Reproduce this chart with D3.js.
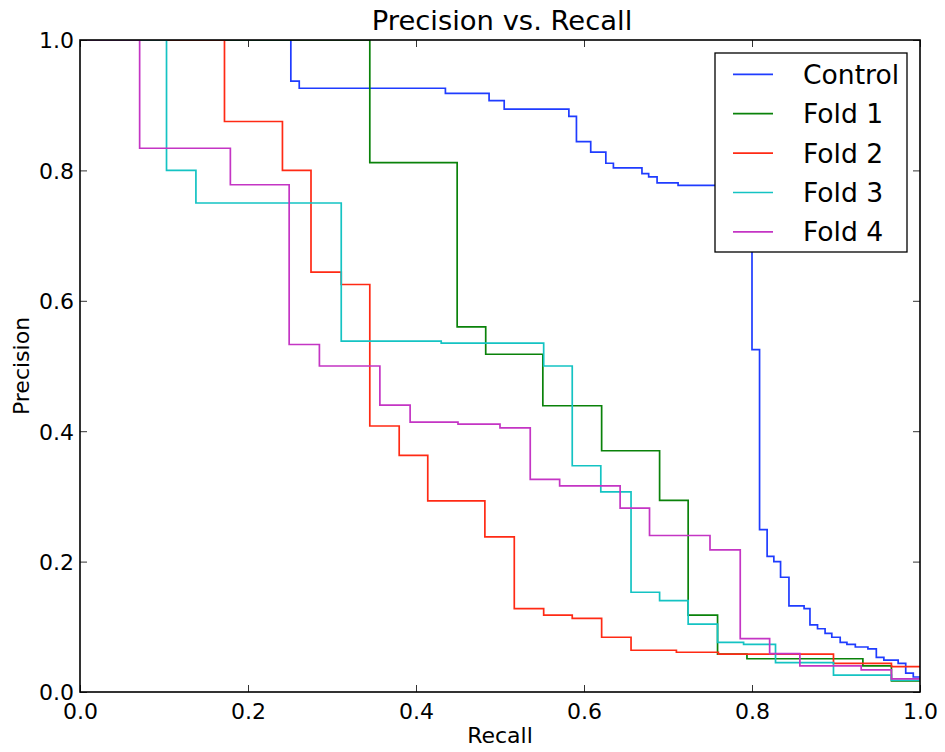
<!DOCTYPE html>
<html><head><meta charset="utf-8">
<script src="https://cdn.jsdelivr.net/npm/d3@7"></script>
<style>body{margin:0;background:#fff}svg{display:block}text{font-family:"DejaVu Sans",sans-serif;fill:#000}</style>
</head><body><svg id="c" width="945" height="752"></svg>
<script>
const seriesNames = ["Control","Fold 1","Fold 2","Fold 3","Fold 4"];
const seriesColors = ["#1f3cff","#0a820a","#ff2a14","#14c3c3","#c435c4"];
const xTicks = [0.0,0.2,0.4,0.6,0.8,1.0];
const yTicks = [0.0,0.2,0.4,0.6,0.8,1.0];

const controlRecall    = [0,0.251,0.261,0.435,0.487,0.505,0.582,0.591,0.608,0.626,0.635,0.669,0.677,0.687,0.712,0.800,0.809,0.818,0.826,0.834,0.844,0.862,0.869,0.878,0.887,0.895,0.905,0.913,0.923,0.938,0.948,0.957,0.974,0.983,0.992,1.0];
const controlPrecision = [1.0,0.937,0.926,0.918,0.907,0.894,0.883,0.844,0.828,0.811,0.804,0.795,0.790,0.781,0.777,0.525,0.249,0.208,0.200,0.176,0.132,0.128,0.103,0.097,0.090,0.084,0.076,0.073,0.069,0.066,0.053,0.049,0.044,0.029,0.023,0.022];

const fold1Recall    = [0,0.345,0.449,0.483,0.551,0.621,0.690,0.724,0.759,0.794,0.932,0.966,1.0];
const fold1Precision = [1.0,0.812,0.560,0.518,0.439,0.370,0.294,0.118,0.058,0.051,0.040,0.017,0.017];

const fold2Recall    = [0,0.172,0.241,0.275,0.311,0.345,0.380,0.414,0.482,0.517,0.552,0.586,0.621,0.656,0.710,0.760,0.897,0.966,1.0];
const fold2Precision = [1.0,0.875,0.800,0.644,0.625,0.408,0.363,0.293,0.238,0.128,0.118,0.113,0.084,0.064,0.061,0.058,0.044,0.039,0.039];

const fold3Recall    = [0,0.103,0.138,0.311,0.430,0.552,0.586,0.620,0.656,0.690,0.724,0.759,0.790,0.828,0.897,0.966,1.0];
const fold3Precision = [1.0,0.800,0.750,0.538,0.535,0.500,0.347,0.307,0.153,0.140,0.104,0.076,0.073,0.045,0.026,0.018,0.018];

const fold4Recall    = [0,0.071,0.179,0.249,0.285,0.357,0.393,0.450,0.500,0.536,0.571,0.643,0.678,0.750,0.786,0.821,0.857,0.930,0.966,1.0];
const fold4Precision = [1.0,0.834,0.778,0.533,0.500,0.440,0.414,0.411,0.405,0.326,0.316,0.282,0.240,0.218,0.082,0.059,0.040,0.034,0.020,0.020];

const recalls = [controlRecall,fold1Recall,fold2Recall,fold3Recall,fold4Recall];
const precisions = [controlPrecision,fold1Precision,fold2Precision,fold3Precision,fold4Precision];

const svg = d3.select("#c");
const L=80,R=920,T=40,B=692;
const x = d3.scaleLinear().domain([0,1]).range([L,R]);
const y = d3.scaleLinear().domain([0,1]).range([B,T]);

svg.append("defs").append("clipPath").attr("id","clip").append("rect")
  .attr("x",L).attr("y",T).attr("width",R-L).attr("height",B-T);

const line = d3.line().x(d=>x(d[0])).y(d=>y(d[1])).curve(d3.curveStepAfter);
const g = svg.append("g").attr("clip-path","url(#clip)");
recalls.forEach((rc,i)=>{
  const pts = rc.map((r,j)=>[r,precisions[i][j]]);
  g.append("path").attr("d",line(pts)).attr("fill","none")
   .attr("stroke",seriesColors[i]).attr("stroke-width",1.7);
});

// ticks inside on all four sides
const tickLen = 7;
const axB = svg.append("g").attr("transform",`translate(0,${B})`).call(d3.axisBottom(x).tickValues(xTicks).tickSize(-tickLen).tickPadding(11).tickFormat(d3.format(".1f")));
const axT = svg.append("g").attr("transform",`translate(0,${T})`).call(d3.axisTop(x).tickValues(xTicks).tickSize(-tickLen).tickFormat(""));
const axL = svg.append("g").attr("transform",`translate(${L},0)`).call(d3.axisLeft(y).tickValues(yTicks).tickSize(-tickLen).tickPadding(6).tickFormat(d3.format(".1f")));
const axR = svg.append("g").attr("transform",`translate(${R},0)`).call(d3.axisRight(y).tickValues(yTicks).tickSize(-tickLen).tickFormat(""));
[axB,axT,axL,axR].forEach(a=>{
  a.select(".domain").remove();
  a.selectAll(".tick line").attr("stroke","#333").attr("stroke-width",1);
  a.selectAll(".tick text").attr("font-size",22).attr("font-family","DejaVu Sans").attr("fill","#000");
});
axB.selectAll(".tick text").attr("dy","0.71em");
axL.selectAll(".tick text").attr("dy","0.36em");

svg.append("rect").attr("x",L).attr("y",T).attr("width",R-L).attr("height",B-T)
  .attr("fill","none").attr("stroke","#000").attr("stroke-width",1.6);

svg.append("text").attr("x",(L+R)/2+2).attr("y",30).attr("text-anchor","middle").attr("font-size",27.4).text("Precision vs. Recall");
svg.append("text").attr("x",(L+R)/2).attr("y",743).attr("text-anchor","middle").attr("font-size",22).text("Recall");
svg.append("text").attr("transform",`translate(29,${(T+B)/2}) rotate(-90)`).attr("text-anchor","middle").attr("font-size",22).text("Precision");

// legend
const lg = svg.append("g");
lg.append("rect").attr("x",715).attr("y",53).attr("width",192).attr("height",199)
  .attr("fill","#fff").attr("stroke","#000").attr("stroke-width",1.3);
seriesNames.forEach((n,i)=>{
  const cy = 74.3 + i*39.4;
  lg.append("line").attr("x1",733).attr("x2",773).attr("y1",cy).attr("y2",cy)
    .attr("stroke",seriesColors[i]).attr("stroke-width",1.7);
  lg.append("text").attr("x",803).attr("y",cy).attr("dy","0.36em").attr("font-size",26.6).text(n);
});
</script></body></html>
